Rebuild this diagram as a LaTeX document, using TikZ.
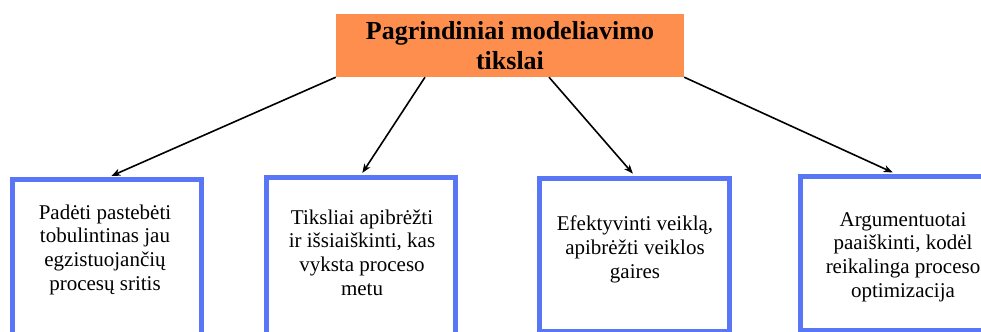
\documentclass[tikz,border=0pt]{standalone}
\usepackage{fontspec}
\setmainfont{Liberation Serif}
\usetikzlibrary{arrows.meta,calc}
\definecolor{headorange}{RGB}{253,142,78}
\definecolor{boxblue}{RGB}{88,118,246}
\tikzset{
  headbox/.style={fill=headorange, draw=none, minimum width=348bp, minimum height=63bp,
    inner sep=0pt, align=center, font=\bfseries\fontsize{26bp}{30bp}\selectfont},
  goalbox/.style={draw=boxblue, line width=5bp, fill=none, inner sep=0pt},
  goaltext/.style={anchor=base, align=center, inner sep=0pt,
    font=\fontsize{21bp}{23.6bp}\selectfont},
  link/.style={draw=black, line width=1.6bp, shorten >=2.5bp,
    -{Stealth[length=9bp,width=7bp,inset=2.5bp]}}
}
\begin{document}
\begin{tikzpicture}[x=1bp,y=-1bp]
  \useasboundingbox (0,0) rectangle (981,331);
  \clip (0,0) rectangle (981,331);

  % heading
  \node[headbox] (title) at (510,45.5) {Pagrindiniai modeliavimo\\tikslai};

  % goal frames
  \node[goalbox, minimum width=189bp, minimum height=160.5bp] (b1) at (107,259.75) {};
  \node[goalbox, minimum width=189bp, minimum height=162.5bp] (b2) at (361,258.75) {};
  \node[goalbox, minimum width=190bp, minimum height=153bp]   (b3) at (634.5,254.5) {};
  \node[goalbox, minimum width=210bp, minimum height=154bp]   (b4) at (905,253) {};

  % goal texts (placed by the baseline of their last line)
  \node[goaltext] (t1) at (105,290) {Padėti pastebėti\\tobulintinas jau\\egzistuojančių\\procesų sritis};
  \node[goaltext] (t2) at (362,295) {Tiksliai apibrėžti\\ir išsiaiškinti, kas\\vyksta proceso\\metu};
  \node[goaltext] (t3) at (635,278) {Efektyvinti veiklą,\\apibrėžti veiklos\\gaires};
  \node[goaltext] (t4) at (903,297) {Argumentuotai\\paaiškinti, kodėl\\reikalinga proceso\\optimizacija};

  % connectors
  \coordinate (s2) at ($(title.south west)!0.256!(title.south east)$);
  \coordinate (s3) at ($(title.south west)!0.612!(title.south east)$);
  \coordinate (e1) at ($(b1.north)+(2,0)$);
  \coordinate (e4) at ($(b4.north west)+(97.5,0)$);
  \draw[link] (title.south west) -- (e1);
  \draw[link] (s2) -- (b2.north);
  \draw[link] (s3) -- (b3.north);
  \draw[link] (title.south east) -- (e4);
\end{tikzpicture}
\end{document}
